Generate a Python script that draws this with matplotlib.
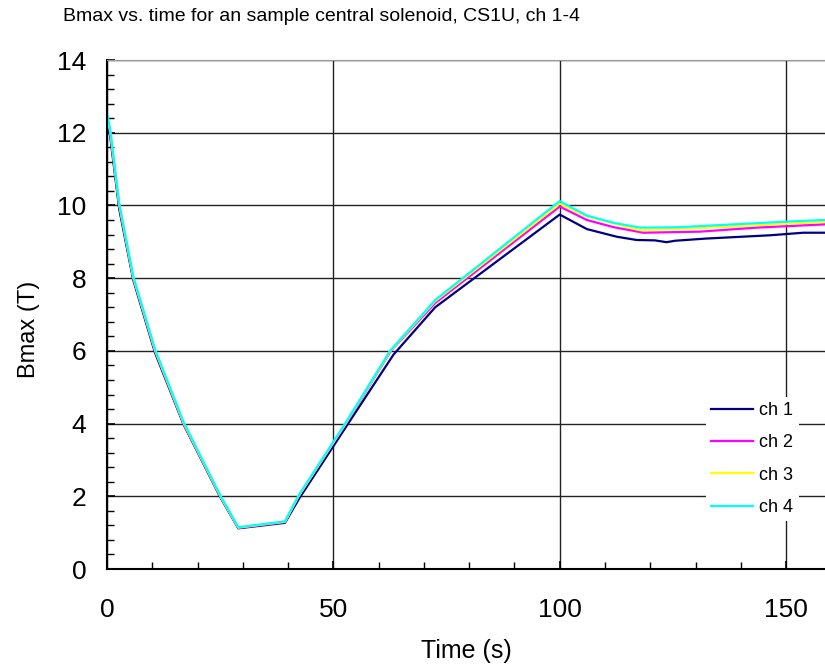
import matplotlib
matplotlib.use('Agg')
import matplotlib.pyplot as plt
from matplotlib.ticker import MultipleLocator

plt.rcParams['font.family'] = ['Liberation Sans', 'DejaVu Sans']

# Datos (tiempo en s, Bmax en T)
t_ch1 = [0, 0.7, 2.7, 5.8, 10.6, 16.9, 25.0, 29.0, 39.3, 42.5, 53.0, 63.3, 72.5,
         100, 106, 112.6, 117, 121, 123.6, 125.5, 132.4, 146.5, 153.8, 158.6]
b_ch1 = [12.25, 11.9, 9.9, 7.95, 5.95, 3.98, 1.98, 1.12, 1.27, 1.95, 3.95, 5.9, 7.2,
         9.75, 9.35, 9.14, 9.05, 9.04, 8.99, 9.03, 9.09, 9.18, 9.25, 9.25]

t_ch2 = [0, 0.7, 2.7, 5.8, 10.6, 16.9, 25.0, 29.0, 39.3, 42.3, 52.8, 62.7, 72.5,
         100, 106, 112, 118.5, 131, 143.5, 158.6]
b_ch2 = [12.4, 12.0, 10.0, 8.0, 6.0, 4.0, 2.0, 1.13, 1.29, 2.0, 4.0, 6.0, 7.32,
         9.97, 9.6, 9.4, 9.25, 9.28, 9.39, 9.48]

t_ch3 = [0, 0.7, 2.7, 5.8, 10.6, 16.9, 25.0, 29.0, 39.3, 42.3, 52.7, 62.6, 72.5,
         100, 106, 112, 117.8, 131, 143.5, 158.6]
b_ch3 = [12.45, 12.05, 10.02, 8.02, 6.02, 4.02, 2.01, 1.14, 1.3, 2.0, 4.0, 6.0, 7.37,
         10.05, 9.7, 9.5, 9.32, 9.38, 9.46, 9.55]

t_ch4 = [0, 0.7, 2.7, 5.8, 10.6, 16.9, 25.0, 29.0, 39.3, 42.2, 52.6, 62.5, 72.5,
         100, 106, 112, 117.8, 126, 138.4, 152.3, 158.6]
b_ch4 = [12.55, 12.1, 10.05, 8.05, 6.05, 4.05, 2.03, 1.15, 1.31, 2.0, 4.0, 6.0, 7.4,
         10.12, 9.72, 9.52, 9.39, 9.4, 9.48, 9.57, 9.6]

etiquetas = ['ch 1', 'ch 2', 'ch 3', 'ch 4']
colores = ['#000080', '#ff00ff', '#ffff00', '#00ffff']

fig = plt.figure(figsize=(8.25, 6.7), dpi=100)
ax = fig.add_axes([0.1297, 0.1507, 0.8703, 0.7597])

series = [(t_ch1, b_ch1), (t_ch2, b_ch2), (t_ch3, b_ch3), (t_ch4, b_ch4)]
for (t, b), lab, col in zip(series, etiquetas, colores):
    ax.plot(t, b, color=col, lw=1.6, label=lab)

ax.set_xlim(0, 158.6)
ax.set_ylim(0, 14)
ax.xaxis.set_major_locator(MultipleLocator(50))
ax.xaxis.set_minor_locator(MultipleLocator(10))
ax.yaxis.set_major_locator(MultipleLocator(2))
ax.yaxis.set_minor_locator(MultipleLocator(0.4))
ax.tick_params(which='both', direction='in', top=False, right=False, labelsize=19)
ax.tick_params(which='major', length=6, width=1.2)
ax.tick_params(which='minor', length=5, width=1)
ax.tick_params(axis='x', pad=21)
ax.tick_params(axis='y', pad=15)

ax.grid(True, which='major', color='#222222', lw=1)
ax.spines['right'].set_visible(False)
ax.spines['top'].set_color('#999999')
ax.spines['left'].set_linewidth(1.5)
ax.spines['bottom'].set_linewidth(1.5)

ax.set_xlabel('Time (s)', fontsize=18, labelpad=12)
ax.set_ylabel('Bmax (T)', fontsize=17)
ax.yaxis.set_label_coords(-0.094, 0.47)
fig.text(0.076, 0.976, 'Bmax vs. time for an sample central solenoid, CS1U, ch 1-4',
         fontsize=14, ha='left', va='center')

leg = ax.legend(loc='center', bbox_to_anchor=(0.912, 0.315), bbox_transform=fig.transFigure,
                frameon=True, facecolor='white', edgecolor='none', framealpha=1,
                fontsize=13, handlelength=2.3, labelspacing=0.85, handletextpad=0.35,
                borderpad=0.3, fancybox=False)

fig.savefig('out.png', dpi=100)
